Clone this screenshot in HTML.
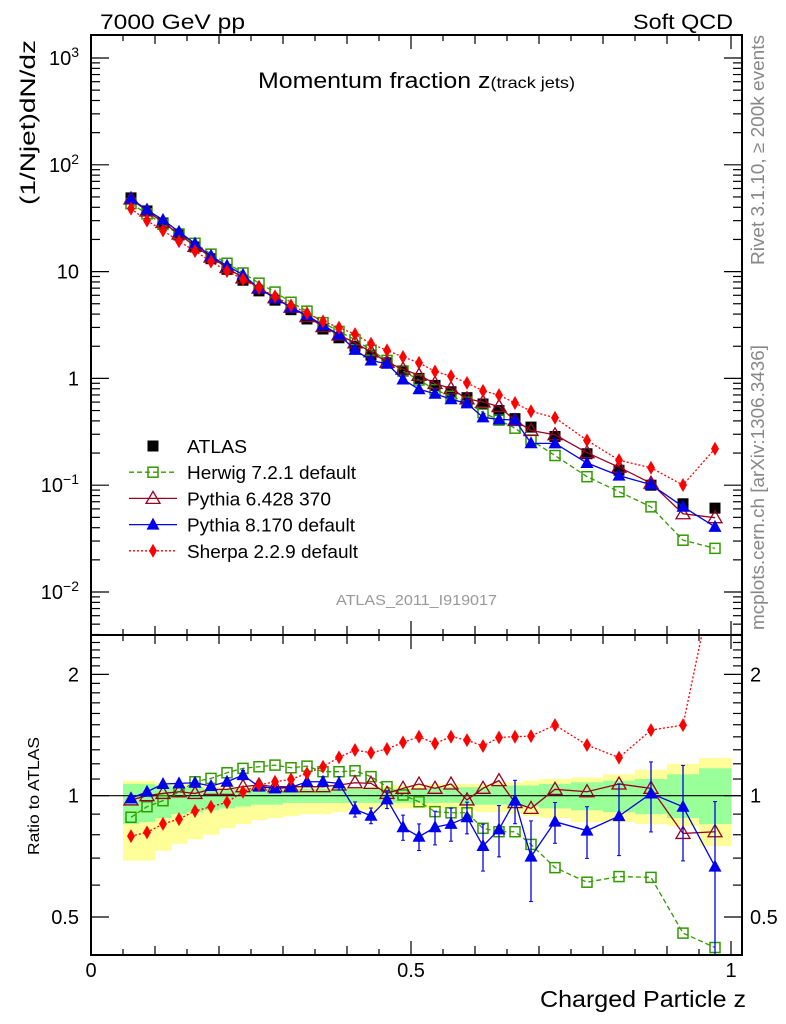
<!DOCTYPE html>
<html><head><meta charset="utf-8"><style>
html,body{margin:0;padding:0;background:#fff;}
svg{display:block;font-family:"Liberation Sans",Arial,sans-serif;}
</style></head><body>
<svg id="chart" width="786" height="1024" viewBox="0 0 786 1024" xmlns="http://www.w3.org/2000/svg">
<g id="bands"></g>
<g id="marks"></g>
<g id="axes"></g>
<text x="100" y="29" font-size="21" textLength="145" lengthAdjust="spacingAndGlyphs">7000 GeV pp</text>
<text x="633" y="29" font-size="21" textLength="100" lengthAdjust="spacingAndGlyphs">Soft QCD</text>
<text x="258" y="88" font-size="22" textLength="317" lengthAdjust="spacingAndGlyphs">Momentum fraction z<tspan font-size="16">(track jets)</tspan></text>
<text transform="translate(35,205) rotate(-90)" font-size="21" textLength="165" lengthAdjust="spacingAndGlyphs">(1/Njet)dN/dz</text>
<text transform="translate(39,855) rotate(-90)" font-size="16" textLength="118" lengthAdjust="spacingAndGlyphs">Ratio to ATLAS</text>
<text x="540" y="1007" font-size="23" textLength="206" lengthAdjust="spacingAndGlyphs">Charged Particle z</text>
<text transform="translate(764,265) rotate(-90)" font-size="18" fill="#888" textLength="230" lengthAdjust="spacingAndGlyphs">Rivet 3.1.10, ≥ 200k events</text>
<text transform="translate(764,630) rotate(-90)" font-size="18" fill="#888" textLength="285" lengthAdjust="spacingAndGlyphs">mcplots.cern.ch [arXiv:1306.3436]</text>
<text x="336" y="605" font-size="15" fill="#999" textLength="161" lengthAdjust="spacingAndGlyphs">ATLAS_2011_I919017</text>
<g id="legend"></g>
</svg>
<script>
const zCenters=[0.0625,0.0875,0.1125,0.1375,0.1625,0.1875,0.2125,0.2375,0.2625,0.2875,0.3125,0.3375,0.3625,0.3875,0.4125,0.4375,0.4625,0.4875,0.5125,0.5375,0.5625,0.5875,0.6125,0.6375,0.6625,0.6875,0.725,0.775,0.825,0.875,0.925,0.975];
const zEdges=[0.05,0.075,0.1,0.125,0.15,0.175,0.2,0.225,0.25,0.275,0.3,0.325,0.35,0.375,0.4,0.425,0.45,0.475,0.5,0.525,0.55,0.575,0.6,0.625,0.65,0.675,0.7,0.75,0.8,0.85,0.9,0.95,1.0];
const atlas=[49,37,28.5,22,17,13.2,10.5,8.3,6.6,5.4,4.4,3.6,2.9,2.4,2.0,1.65,1.4,1.17,1.0,0.86,0.75,0.66,0.576,0.50,0.42,0.35,0.286,0.197,0.138,0.10,0.067,0.061];
const herwigRatio=[0.884,0.939,0.972,1.023,1.083,1.104,1.140,1.169,1.180,1.191,1.173,1.184,1.147,1.147,1.153,1.115,1.053,1.004,0.966,0.913,0.907,0.907,0.830,0.814,0.814,0.757,0.663,0.610,0.630,0.627,0.456,0.420];
const py6Ratio=[0.976,1.0,1.013,1.023,1.013,1.037,1.037,1.053,1.063,1.053,1.053,1.053,1.053,1.063,1.077,1.073,1.013,1.043,1.069,1.043,1.069,0.976,1.043,1.090,0.961,0.930,1.037,1.023,1.069,1.043,0.806,0.814];
const py8Ratio=[0.985,1.023,1.069,1.073,1.077,1.057,1.083,1.125,1.053,1.043,1.049,1.083,1.083,1.073,0.925,0.892,0.979,0.835,0.791,0.835,0.851,0.884,0.750,0.825,0.972,0.706,0.862,0.819,0.890,1.013,0.939,0.667];
const py8Err=[0.01,0.01,0.01,0.01,0.015,0.015,0.02,0.03,0.02,0.02,0.02,0.03,0.03,0.04,0.04,0.04,0.05,0.06,0.06,0.08,0.08,0.08,0.1,0.12,0.12,0.16,0.1,0.12,0.18,0.2,0.25,0.3];
const sherpaRatio=[0.794,0.811,0.851,0.875,0.916,0.939,0.963,1.023,1.063,1.083,1.098,1.136,1.180,1.245,1.298,1.278,1.306,1.356,1.401,1.348,1.401,1.374,1.328,1.395,1.401,1.406,1.497,1.336,1.243,1.455,1.497,3.6];
const yellowLo=[0.69,0.69,0.73,0.76,0.78,0.80,0.83,0.85,0.87,0.88,0.89,0.90,0.90,0.91,0.92,0.92,0.93,0.93,0.93,0.93,0.93,0.92,0.91,0.91,0.90,0.89,0.88,0.86,0.86,0.85,0.84,0.75];
const yellowHi=[1.09,1.09,1.08,1.07,1.07,1.06,1.06,1.05,1.05,1.05,1.05,1.05,1.05,1.05,1.05,1.05,1.06,1.06,1.06,1.07,1.07,1.07,1.07,1.08,1.08,1.09,1.10,1.11,1.13,1.16,1.20,1.24];
const greenLo=[0.85,0.86,0.88,0.90,0.91,0.92,0.93,0.94,0.95,0.95,0.96,0.96,0.96,0.96,0.96,0.96,0.96,0.96,0.96,0.96,0.96,0.95,0.95,0.95,0.94,0.94,0.93,0.92,0.91,0.90,0.88,0.85];
const greenHi=[1.07,1.07,1.06,1.05,1.05,1.04,1.04,1.04,1.04,1.04,1.04,1.04,1.04,1.04,1.04,1.04,1.04,1.04,1.04,1.05,1.05,1.05,1.05,1.06,1.06,1.06,1.07,1.08,1.09,1.10,1.13,1.17];
const mainTicks=[3,2,1,0,-1,-2];
const ratioTicks=[2,1,0.5];
const xTicks=[0,0.5,1];

const NS="http://www.w3.org/2000/svg";
const L=91,R=742,T1=35,B1=635,T2=635,B2=955;
function X(z){return 91+z*640;}
function YM(v){return 58+(3-Math.log10(v))*106.8;}
function YR(r){return 795.7-Math.log2(r)*121.3;}
function mk(p,tag,a){const e=document.createElementNS(NS,tag);for(const k in a)e.setAttribute(k,a[k]);p.appendChild(e);return e;}
const bands=document.getElementById('bands'),marks=document.getElementById('marks'),axes=document.getElementById('axes'),legend=document.getElementById('legend');

for(let i=0;i<zCenters.length;i++){
  const x0=X(zEdges[i]),x1=X(zEdges[i+1]);
  let e=mk(bands,'rect',{x:x0,y:YR(yellowHi[i]),width:x1-x0+0.5,height:YR(yellowLo[i])-YR(yellowHi[i]),fill:'#ffff99'});
  
  
  e=mk(bands,'rect',{x:x0,y:YR(greenHi[i]),width:x1-x0+0.5,height:YR(greenLo[i])-YR(greenHi[i]),fill:'#99ff99'});
  
  
}
let ln=mk(bands,'line',{x1:L,x2:R,y1:YR(1),y2:YR(1),stroke:'#000','stroke-width':1.2});



function marker(g,type,x,y,col){
  if(type==='sq') return mk(g,'rect',{x:x-5.5,y:y-5.5,width:11,height:11,fill:'#000'});
  if(type==='osq') return mk(g,'rect',{x:x-5,y:y-5,width:10,height:10,fill:'none',stroke:col,'stroke-width':1.5});
  if(type==='otri') return mk(g,'polygon',{points:`${x},${y-7} ${x-7},${y+5} ${x+7},${y+5}`,fill:'none',stroke:col,'stroke-width':1.3});
  if(type==='tri') return mk(g,'polygon',{points:`${x},${y-7} ${x-6.5},${y+5} ${x+6.5},${y+5}`,fill:col});
  if(type==='dia') return mk(g,'polygon',{points:`${x},${y-7} ${x-4},${y} ${x},${y+7} ${x+4},${y}`,fill:col});
}
const series=[
  {name:'herwig',ratio:herwigRatio,col:'#339900',dash:'5,3',m:'osq',label:'Herwig 7.2.1 default',len:169},
  {name:'pythia6',ratio:py6Ratio,col:'#990022',dash:'',m:'otri',label:'Pythia 6.428 370',len:144},
  {name:'pythia8',ratio:py8Ratio,col:'#0000ee',dash:'',m:'tri',label:'Pythia 8.170 default',len:168,err:py8Err},
  {name:'sherpa',ratio:sherpaRatio,col:'#ff0000',dash:'2,2',m:'dia',label:'Sherpa 2.2.9 default',len:171}
];
const clipM=mk(marks,'clipPath',{id:'cm'});mk(clipM,'rect',{x:L,y:T1,width:R-L,height:B1-T1});
const clipR=mk(marks,'clipPath',{id:'cr'});mk(clipR,'rect',{x:L,y:T2,width:R-L,height:B2-T2});
const gm=mk(marks,'g',{'clip-path':'url(#cm)'}),gr=mk(marks,'g',{'clip-path':'url(#cr)'});
for(let i=0;i<zCenters.length;i++){
  const e=marker(gm,'sq',X(zCenters[i]),YM(atlas[i]));
  
  
}
series.forEach(s=>{
  const mainPts=zCenters.map((z,i)=>[X(z),YM(atlas[i]*s.ratio[i])]);
  const ratPts=zCenters.map((z,i)=>[X(z),YR(s.ratio[i])]);
  [[gm,mainPts,'main'],[gr,ratPts,'ratio']].forEach(([g,pts,kind])=>{
    const pl=mk(g,'polyline',{points:pts.map(p=>p.join(',')).join(' '),fill:'none',stroke:s.col,'stroke-width':1.3,'stroke-dasharray':s.dash});
    
    
    pts.forEach((p,i)=>{
      if(s.err&&kind==='ratio'){
        const y1=YR(s.ratio[i]+s.err[i]),y2=YR(Math.max(0.3,s.ratio[i]-s.err[i]));
        mk(g,'line',{x1:p[0],x2:p[0],y1:y1,y2:y2,stroke:s.col,'stroke-width':1.3});
        mk(g,'line',{x1:p[0]-2,x2:p[0]+2,y1:y1,y2:y1,stroke:s.col});
        mk(g,'line',{x1:p[0]-2,x2:p[0]+2,y1:y2,y2:y2,stroke:s.col});
      }
      const e=marker(g,s.m,p[0],p[1],s.col);
      
      
    });
  });
});

[[T1,B1],[T2,B2]].forEach(([t,b])=>{
  mk(axes,'rect',{x:L,y:t,width:R-L,height:b-t,fill:'none',stroke:'#000','stroke-width':2});
  for(let k=0;k<=20;k++){
    const z=k*0.05,x=X(z);const len=(k%10===0)?14:(k%2===0?9:6);
    mk(axes,'line',{x1:x,x2:x,y1:b,y2:b-len,stroke:'#000','stroke-width':1.2});
    mk(axes,'line',{x1:x,x2:x,y1:t,y2:t+len,stroke:'#000','stroke-width':1.2});
  }
});
for(let d=-3;d<=3;d++){
  for(let m=1;m<10;m++){
    const v=m*Math.pow(10,d),y=YM(v);
    if(y<T1||y>B1)continue;
    const len=m===1?18:9;
    mk(axes,'line',{x1:L,x2:L+len,y1:y,y2:y,stroke:'#000','stroke-width':1.2});
    mk(axes,'line',{x1:R,x2:R-len,y1:y,y2:y,stroke:'#000','stroke-width':1.2});
  }
}
mainTicks.forEach(d=>{
  const y=YM(Math.pow(10,d));
  const t=mk(axes,'text',{x:79,y:y+7,'font-size':20,'text-anchor':'end'});
  
  
  if(d===0)t.textContent='1';else if(d===1)t.textContent='10';
  else{t.textContent='10';const ts=mk(t,'tspan',{'font-size':14,dy:-8});ts.textContent=(d<0?'\u2212':'')+Math.abs(d);}
});
for(let r=0.4;r<=2.5;r+=0.1){
  const y=YR(r);if(y<T2||y>B2)continue;
  const maj=Math.abs(r-1)<1e-6||Math.abs(r-2)<1e-6||Math.abs(r-0.5)<1e-6;
  const len=maj?18:9;
  mk(axes,'line',{x1:L,x2:L+len,y1:y,y2:y,stroke:'#000','stroke-width':1.2});
  mk(axes,'line',{x1:R,x2:R-len,y1:y,y2:y,stroke:'#000','stroke-width':1.2});
}
ratioTicks.forEach(r=>{
  const y=YR(r);
  let t=mk(axes,'text',{x:79,y:y+7,'font-size':20,'text-anchor':'end'});t.textContent=String(r);
  
  
  t=mk(axes,'text',{x:750,y:y+7,'font-size':20});t.textContent=String(r);
  
  
});
xTicks.forEach(z=>{
  const t=mk(axes,'text',{x:X(z),y:977,'font-size':20,'text-anchor':'middle'});t.textContent=String(z);
  
  
});
const legRows=[{m:'sq',col:'#000',dash:null,label:'ATLAS',len:60}].concat(series.map(s=>({m:s.m,col:s.col,dash:s.dash,label:s.label,len:s.len})));
legRows.forEach((r,i)=>{
  const y=446+i*26.2;
  const g=mk(legend,'g',{});
  
  
  if(r.dash!==null)mk(g,'line',{x1:129,x2:177,y1:y,y2:y,stroke:r.col,'stroke-width':1.3,'stroke-dasharray':r.dash});
  marker(g,r.m,153,y,r.col);
  const t=mk(g,'text',{x:187,y:y+7,'font-size':18,textLength:r.len,lengthAdjust:'spacingAndGlyphs'});t.textContent=r.label;
});
</script>
</body></html>
